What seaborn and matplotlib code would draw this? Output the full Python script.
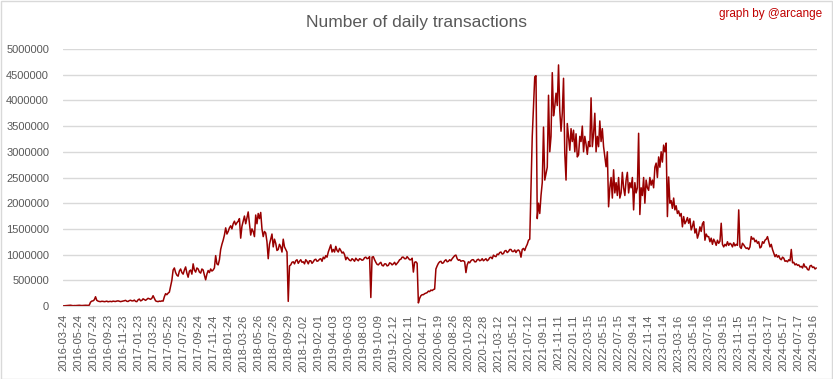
import numpy as np
import pandas as pd
import matplotlib
matplotlib.use("Agg")
import matplotlib.pyplot as plt
import seaborn as sns

# daily transactions (thousands), 12 readings per 61-day label interval
tx_2016_17 = [
    2, 4, 5, 8, 10, 12, 15, 10, 6, 9, 8, 10,
    10, 14, 12, 9, 11, 15, 14, 12, 12, 16, 75, 95,
    100, 120, 180, 110, 95, 88, 85, 92, 90, 84, 88, 95,
    82, 88, 90, 84, 95, 90, 88, 96, 100, 92, 85, 90,
    95, 102, 110, 92, 88, 105, 112, 100, 100, 115, 90, 85,
    120, 135, 100, 110, 140, 125, 110, 130, 150, 140, 130, 150,
    200, 150, 100, 90, 85, 95, 90, 100, 95, 180, 240, 220,
    250, 270, 380, 500, 700, 740, 650, 600, 580, 680, 720, 650,
    620, 700, 760, 640, 560, 680, 700, 620, 820, 700, 660, 740,
    720, 660, 640, 720, 700, 600, 510, 620, 690, 650, 720, 680,
]
tx_2017_19 = [
    700, 740, 980, 820, 800, 900, 1100, 1200, 1280, 1380, 1520, 1400,
    1450, 1520, 1560, 1500, 1600, 1650, 1580, 1620, 1650, 1700, 1320, 1550,
    1650, 1750, 1600, 1720, 1830, 1600, 1380, 1500, 1450, 1350, 1770, 1600,
    1800, 1700, 1820, 1500, 1350, 1450, 1420, 1250, 920, 1200, 1300, 1400,
    1150, 1300, 1220, 1080, 1100, 1200, 1150, 1050, 1300, 1150, 1100, 1050,
    90, 780, 800, 850, 860, 820, 880, 900, 830, 870, 900, 850,
    860, 820, 900, 870, 820, 880, 880, 830, 860, 900, 910, 870,
    880, 910, 920, 870, 950, 920, 980, 950, 1050, 1120, 1190, 1050,
    1100, 1050, 1160, 1080, 1050, 1120, 1080, 1030, 1050, 1000, 900, 950,
    920, 890, 880, 920, 900, 870, 930, 900, 880, 920, 910, 890,
]
tx_2019_21 = [
    900, 940, 950, 920, 930, 960, 165, 950, 960, 900, 850, 810,
    800, 830, 850, 790, 780, 820, 820, 780, 790, 840, 830, 800,
    820, 850, 800, 830, 860, 900, 910, 950, 950, 920, 920, 960,
    930, 900, 900, 930, 660, 850, 860, 830, 60, 150, 200, 220,
    220, 240, 250, 260, 290, 280, 310, 300, 320, 330, 720, 780,
    830, 860, 870, 830, 840, 880, 900, 860, 870, 900, 880, 920,
    950, 980, 990, 920, 890, 900, 870, 880, 880, 860, 650, 800,
    860, 840, 880, 900, 900, 860, 860, 900, 910, 880, 890, 920,
    880, 900, 920, 880, 900, 940, 950, 920, 990, 970, 960, 1010,
    1000, 1040, 1050, 1010, 1020, 1070, 1080, 1040, 1060, 1100, 1100, 1060,
]
tx_2021_22 = [
    1060, 1090, 1040, 1080, 1090, 1060, 950, 1100, 1120, 1080, 1150, 1200,
    1280, 1300, 2300, 3300, 3900, 4460, 4480, 1700, 2000, 1800, 2150, 2400,
    3480, 2450, 2580, 2700, 4100, 3000, 3300, 4540, 3700, 3880, 4140, 3900,
    4690, 3800, 3400, 3750, 4430, 2970, 2450, 3550, 3300, 3030, 3450, 3200,
    3420, 3000, 3350, 2900, 2940, 3300, 3200, 3500, 3000, 3300, 3150, 2950,
    3200, 3100, 4050, 3100, 3350, 3750, 3000, 3300, 3100, 3600, 3200, 3450,
    3100, 2900, 2710, 3000, 1930, 2300, 2500, 2100, 2650, 2200, 2400, 2150,
    2500, 2100, 2200, 2600, 2300, 2150, 2450, 2600, 2200, 2400, 2300, 2500,
    1870, 2400, 2200, 2300, 3360, 1780, 2300, 2150, 2500, 2000, 2450, 2300,
    2250, 2500, 2350, 2450, 2300, 2700, 2780, 2500, 2900, 2700, 3000, 2800,
]
tx_2023_24 = [
    3130, 3000, 3170, 1740, 2510, 2000, 2050, 1900, 2100, 1870, 1950, 1800,
    1850, 1750, 1800, 1540, 1740, 1600, 1650, 1720, 1610, 1700, 1480, 1550,
    1650, 1420, 1500, 1320, 1400, 1540, 1450, 1600, 1640, 1280, 1400, 1350,
    1350, 1250, 1320, 1200, 1300, 1250, 1180, 1280, 1220, 1260, 1610, 1200,
    1150, 1200, 1170, 1250, 1180, 1220, 1200, 1150, 1230, 1170, 1200, 1180,
    1870, 1150, 1120, 1220, 1190, 1150, 1120, 1130, 1100, 1150, 1350, 1300,
    1320, 1250, 1280, 1220, 1250, 1130, 1150, 1250, 1220, 1280, 1300, 1350,
    1250, 1150, 1200, 1100, 1030, 960, 1000, 950, 980, 920, 900, 950,
    930, 870, 880, 860, 900, 880, 1100, 840, 850, 800, 820, 790,
    800, 760, 770, 740, 820, 760, 760, 710, 700, 780, 790, 750,
    760, 720, 740,
]

date_labels = [
    "2016-03-24", "2016-05-24", "2016-07-24", "2016-09-23", "2016-11-23",
    "2017-01-23", "2017-03-25", "2017-05-25", "2017-07-25", "2017-09-24",
    "2017-11-24", "2018-01-24", "2018-03-26", "2018-05-26", "2018-07-26",
    "2018-09-29", "2018-12-02", "2019-02-01", "2019-04-03", "2019-06-03",
    "2019-08-03", "2019-10-09", "2019-12-12", "2020-02-11", "2020-04-17",
    "2020-06-19", "2020-08-26", "2020-10-28", "2020-12-28", "2021-03-12",
    "2021-05-12", "2021-07-12", "2021-09-11", "2021-11-11", "2022-01-11",
    "2022-03-15", "2022-05-15", "2022-07-15", "2022-09-14", "2022-11-14",
    "2023-01-14", "2023-03-16", "2023-05-16", "2023-07-16", "2023-09-15",
    "2023-11-15", "2024-01-15", "2024-03-17", "2024-05-17", "2024-07-17",
    "2024-09-16",
]

values = np.array(tx_2016_17 + tx_2017_19 + tx_2019_21 + tx_2021_22 + tx_2023_24) * 1000
df = pd.DataFrame({"day": np.arange(len(values)) * 61 / 12, "tx": values})

sns.set_style("white")
plt.rcParams["font.family"] = ["Liberation Sans", "DejaVu Sans"]

fig = plt.figure(figsize=(8.33, 3.79), dpi=100)
ax = fig.add_axes([63 / 833, 1 - 306 / 379, 754 / 833, 257 / 379])

sns.lineplot(data=df, x="day", y="tx", ax=ax, color="#990000", linewidth=1.1)

ax.set_xlim(0, 3063)
ax.set_ylim(0, 5000000)
ax.set_yticks(np.arange(0, 5000001, 500000))
ax.set_yticklabels([str(v) for v in range(0, 5000001, 500000)])
ax.set_xticks(np.arange(len(date_labels)) * 61)
ax.set_xticklabels(date_labels, rotation=90)
ax.tick_params(axis="both", labelsize=8, colors="#595959", length=0)
ax.tick_params(axis="y", pad=10)
ax.tick_params(axis="x", pad=6)
ax.grid(axis="y", color="#D9D9D9", linewidth=1)
ax.set_axisbelow(True)
for s in ["top", "right", "left"]:
    ax.spines[s].set_visible(False)
ax.spines["bottom"].set_color("#D9D9D9")
ax.set_xlabel("")
ax.set_ylabel("")

fig.text(417 / 833, 1 - 22 / 379, "Number of daily transactions", ha="center", va="center",
         fontsize=12.5, color="#595959")
fig.text(822 / 833, 1 - 14 / 379, "graph by @arcange", ha="right", va="center",
         fontsize=8.5, color="#C00000")

fig.patches.append(plt.Rectangle((0.5 / 833, 0.5 / 379), 1 - 1.5 / 833, 1 - 1.5 / 379,
                                 transform=fig.transFigure, fill=False,
                                 edgecolor="#D9D9D9", linewidth=1))

fig.savefig("out.png", dpi=100)
